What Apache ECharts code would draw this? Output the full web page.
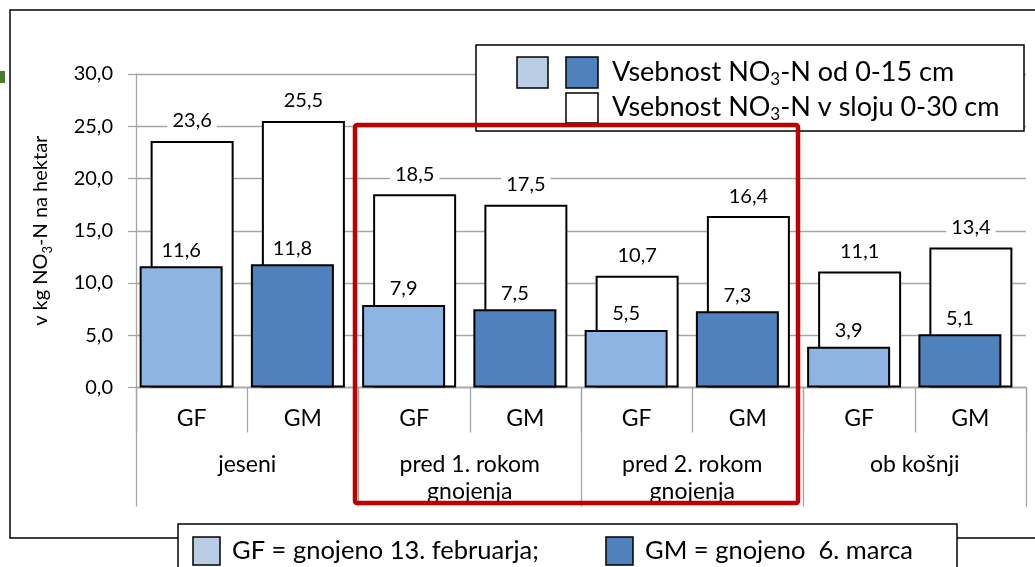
<!DOCTYPE html>
<html>
<head>
<meta charset="utf-8">
<script src="https://cdn.jsdelivr.net/npm/echarts@6/dist/echarts.min.js"></script>
<style>
  html, body { margin: 0; padding: 0; background: #fff; }
  #chart { width: 1035px; height: 567px; }
</style>
</head>
<body>
<div id="chart"></div>
<script>
// Fertilisation variants per sampling date
const categories = ['GF', 'GM', 'GF', 'GM', 'GF', 'GM', 'GF', 'GM'];
// Sampling dates (second axis level)
const periods = ['jeseni', 'pred 1. rokom\ngnojenja', 'pred 2. rokom\ngnojenja', 'ob košnji'];
// NO3-N content, kg per hectare
const layer0to15 = [11.6, 11.8, 7.9, 7.5, 5.5, 7.3, 3.9, 5.1];
const layer0to30 = [23.6, 25.5, 18.5, 17.5, 10.7, 16.4, 11.1, 13.4];
// Value axis
const yMin = 0, yMax = 30, yStep = 5;

const FONT = 'Lato, "Noto Sans", sans-serif';
const LIGHT = '#8EB4E3', DARK = '#4F81BD';
const LEG_LIGHT = '#B9CDE5';
const GRID = '#A6A6A6';
const fmt = v => Number(v).toFixed(1).replace('.', ',');

const chart = echarts.init(document.getElementById('chart'), null, { renderer: 'canvas' });

const barLabel = (distance, bg) => ({
  show: true,
  position: 'top',
  distance: distance,
  formatter: p => fmt(p.value),
  fontFamily: FONT,
  fontSize: 20,
  color: '#000',
  backgroundColor: bg,
  padding: [1, 5]
});

const subRich = size => ({ sub: { fontSize: size, fontFamily: FONT, color: '#000', verticalAlign: 'bottom', lineHeight: size } });

const option = {
  backgroundColor: '#fff',
  animation: false,
  textStyle: { fontFamily: FONT },
  grid: { left: 136, right: 9, top: 74, bottom: 179.5 },
  xAxis: [
    {
      type: 'category',
      data: categories,
      position: 'bottom',
      axisLine: { show: true, lineStyle: { color: GRID, width: 1.3 } },
      axisTick: { show: true, interval: 0, length: 45, lineStyle: { color: GRID, width: 1.3 } },
      axisLabel: { interval: 0, margin: 19, fontSize: 23, lineHeight: 24, color: '#000', fontFamily: FONT }
    },
    {
      type: 'category',
      data: periods,
      position: 'bottom',
      axisLine: { show: false },
      axisTick: { show: true, interval: 0, length: 119, lineStyle: { color: GRID, width: 1.3 } },
      axisLabel: { interval: 0, margin: 64, fontSize: 23, lineHeight: 27, color: '#000', fontFamily: FONT }
    }
  ],
  yAxis: {
    type: 'value',
    min: yMin, max: yMax, interval: yStep,
    axisLine: { show: true, lineStyle: { color: GRID, width: 1.3 } },
    axisTick: { show: true, length: 8, lineStyle: { color: GRID, width: 1.3 } },
    splitLine: { lineStyle: { color: GRID, width: 1.3 } },
    axisLabel: { formatter: fmt, fontSize: 20, margin: 23, color: '#000', fontFamily: FONT },
    name: 'v kg NO{sub|3}-N na hektar',
    nameLocation: 'middle',
    nameGap: 82,
    nameTextStyle: { fontSize: 20, color: '#000', fontFamily: FONT, lineHeight: 26, rich: subRich(13) }
  },
  series: [
    {
      name: 'Vsebnost NO3-N od 0-15 cm',
      type: 'bar',
      xAxisIndex: 0,
      z: 3,
      barWidth: 83,
      barGap: '-86.75%',
      data: layer0to15.map((v, i) => ({
        value: v,
        itemStyle: { color: i % 2 === 0 ? LIGHT : DARK }
      })),
      itemStyle: { borderColor: '#000', borderWidth: 2 },
      label: barLabel(5, 'transparent')
    },
    {
      name: 'Vsebnost NO3-N v sloju 0-30 cm',
      type: 'bar',
      xAxisIndex: 0,
      z: 2,
      barWidth: 83,
      barGap: '-86.75%',
      data: layer0to30,
      itemStyle: { color: '#fff', borderColor: '#000', borderWidth: 2 },
      label: barLabel(9, '#fff')
    },
    {
      // empty spacer column: nudges each bar pair slightly left of the category centre
      type: 'bar',
      xAxisIndex: 0,
      silent: true,
      barWidth: 82,
      barGap: '-86.75%',
      data: []
    }
  ],
  graphic: [
    // outer frame
    { type: 'rect', z: 90, shape: { x: 10, y: 10, width: 1040, height: 528 },
      style: { fill: 'none', stroke: '#000', lineWidth: 1.5 } },
    // green edge at left
    { type: 'rect', z: 90, shape: { x: 0, y: 71, width: 5, height: 12 }, style: { fill: '#4B7B2F' } },
    // series legend
    { type: 'rect', z: 95, shape: { x: 476, y: 45, width: 548, height: 86 },
      style: { fill: '#fff', stroke: '#000', lineWidth: 1.5 } },
    { type: 'rect', z: 96, shape: { x: 517, y: 57, width: 31, height: 31 },
      style: { fill: LEG_LIGHT, stroke: '#000', lineWidth: 1.5 } },
    { type: 'rect', z: 96, shape: { x: 566, y: 57, width: 32, height: 31 },
      style: { fill: DARK, stroke: '#000', lineWidth: 1.5 } },
    { type: 'rect', z: 96, shape: { x: 566, y: 93, width: 32, height: 30 },
      style: { fill: '#fff', stroke: '#000', lineWidth: 1.5 } },
    { type: 'text', z: 96, style: { x: 612, y: 72, text: 'Vsebnost NO{sub|3}-N od 0-15 cm',
      fontFamily: FONT, fontSize: 27, fill: '#000', verticalAlign: 'middle', lineHeight: 32, rich: subRich(17) } },
    { type: 'text', z: 96, style: { x: 612, y: 107, text: 'Vsebnost NO{sub|3}-N v sloju 0-30 cm',
      fontFamily: FONT, fontSize: 27, fill: '#000', verticalAlign: 'middle', lineHeight: 32, rich: subRich(17) } },
    // highlighted fertilisation dates
    { type: 'rect', z: 99, shape: { x: 355, y: 125, width: 443, height: 378, r: 2 },
      style: { fill: 'none', stroke: '#C00000', lineWidth: 4.5 } },
    // fertilisation legend
    { type: 'rect', z: 95, shape: { x: 178, y: 524, width: 779, height: 60 },
      style: { fill: '#fff', stroke: '#000', lineWidth: 1.5 } },
    { type: 'rect', z: 96, shape: { x: 193, y: 537, width: 27, height: 28 },
      style: { fill: LEG_LIGHT, stroke: '#000', lineWidth: 1.5 } },
    { type: 'rect', z: 96, shape: { x: 606, y: 537, width: 27, height: 28 },
      style: { fill: DARK, stroke: '#000', lineWidth: 1.5 } },
    { type: 'text', z: 96, style: { x: 232, y: 551, text: 'GF = gnojeno 13. februarja;',
      fontFamily: FONT, fontSize: 25.5, fill: '#000', verticalAlign: 'middle' } },
    { type: 'text', z: 96, style: { x: 645, y: 551, text: 'GM = gnojeno  6. marca',
      fontFamily: FONT, fontSize: 25.5, fill: '#000', verticalAlign: 'middle' } }
  ]
};

chart.setOption(option);
</script>
</body>
</html>
